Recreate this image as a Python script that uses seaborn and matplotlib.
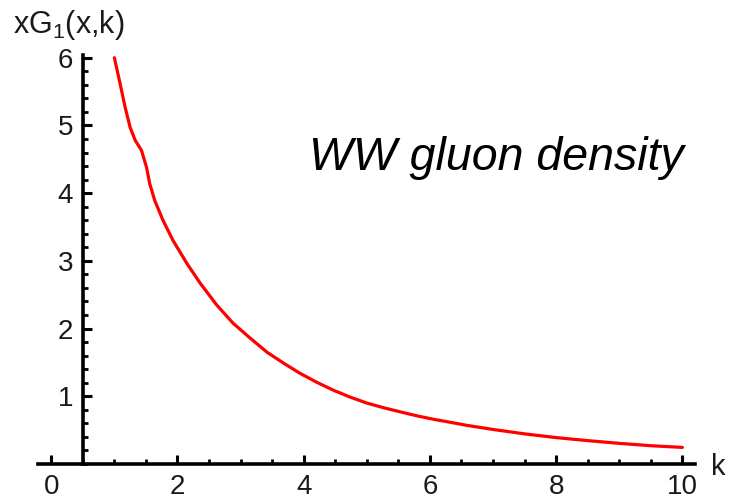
import matplotlib
matplotlib.use("Agg")
import matplotlib.pyplot as plt
import seaborn as sns
import pandas as pd
from matplotlib.ticker import MultipleLocator, FixedLocator

# Data
k_values = [1.0, 1.09, 1.17, 1.25, 1.33, 1.43, 1.51, 1.56, 1.64, 1.77, 1.93,
            2.15, 2.36, 2.62, 2.88, 3.15, 3.42, 3.68, 3.94, 4.2, 4.47, 4.73,
            5.0, 5.27, 5.53, 5.8, 6.06, 6.33, 6.59, 7.0, 7.5, 8.0, 8.5, 9.0,
            9.5, 10.0]
xg_values = [6.0, 5.62, 5.27, 4.97, 4.78, 4.63, 4.38, 4.14, 3.89, 3.60, 3.30,
             2.96, 2.67, 2.35, 2.08, 1.86, 1.65, 1.49, 1.34, 1.21, 1.09, 0.99,
             0.90, 0.83, 0.77, 0.71, 0.66, 0.615, 0.57, 0.51, 0.445, 0.39, 0.345,
             0.305, 0.27, 0.245]
x_ticks = [0, 2, 4, 6, 8, 10]
y_ticks = [1, 2, 3, 4, 5, 6]
y_label = "xG$_1$(x,k)"
x_label = "k"
annotation = "WW gluon density"

df = pd.DataFrame({"k": k_values, "xG": xg_values})

sns.set_style("white")
plt.rcParams["font.family"] = ["Liberation Sans", "DejaVu Sans"]
plt.rcParams["mathtext.fontset"] = "custom"
plt.rcParams["mathtext.rm"] = "Liberation Sans"
plt.rcParams["mathtext.it"] = "Liberation Sans:italic"
plt.rcParams["mathtext.default"] = "rm"

fig = plt.figure(figsize=(7.32, 5.03), dpi=100)
ax = fig.add_axes([38 / 732, (503 - 464) / 503, 657 / 732, 409 / 503])

sns.lineplot(data=df, x="k", y="xG", ax=ax, color="#ff0000", linewidth=2.3,
             sort=False, clip_on=False, solid_joinstyle="round")

ax.set_xlim(-0.21, 10.2)
ax.set_ylim(0, 6.04)

for s in ["top", "right"]:
    ax.spines[s].set_visible(False)
ax.spines["left"].set_position(("data", 0.5))
ax.spines["bottom"].set_position(("data", 0))
for s in ["left", "bottom"]:
    ax.spines[s].set_linewidth(2.6)
    ax.spines[s].set_color("black")

ax.xaxis.set_major_locator(FixedLocator(x_ticks))
ax.xaxis.set_minor_locator(MultipleLocator(0.5))
ax.yaxis.set_major_locator(FixedLocator(y_ticks))
ax.yaxis.set_minor_locator(MultipleLocator(0.2))
ax.set_xticklabels([str(t) for t in x_ticks])
ax.set_yticklabels([str(t) for t in y_ticks])

ax.tick_params(axis="both", which="both", bottom=True, left=True,
               top=False, right=False)
ax.tick_params(axis="both", which="major", direction="in", length=6.5, width=2.2,
               color="black", labelsize=20, labelcolor="#1a1a1a")
ax.tick_params(axis="both", which="minor", direction="in", length=3.8, width=2.0,
               color="black")
ax.tick_params(axis="x", which="major", pad=7)
ax.tick_params(axis="y", which="major", pad=7)

ax.set_xlabel("")
ax.set_ylabel("")

fig.text(13 / 732, 1 - 25 / 503, y_label, fontsize=22, ha="left", va="center",
         color="#1a1a1a")
ax.text(10.45, -0.04, x_label, fontsize=21, ha="left", va="center",
        color="#1a1a1a", clip_on=False)
ax.text(4.09, 4.34, annotation, fontsize=33.5, style="italic", ha="left",
        va="baseline", color="black")

fig.savefig("out.png", dpi=100)
